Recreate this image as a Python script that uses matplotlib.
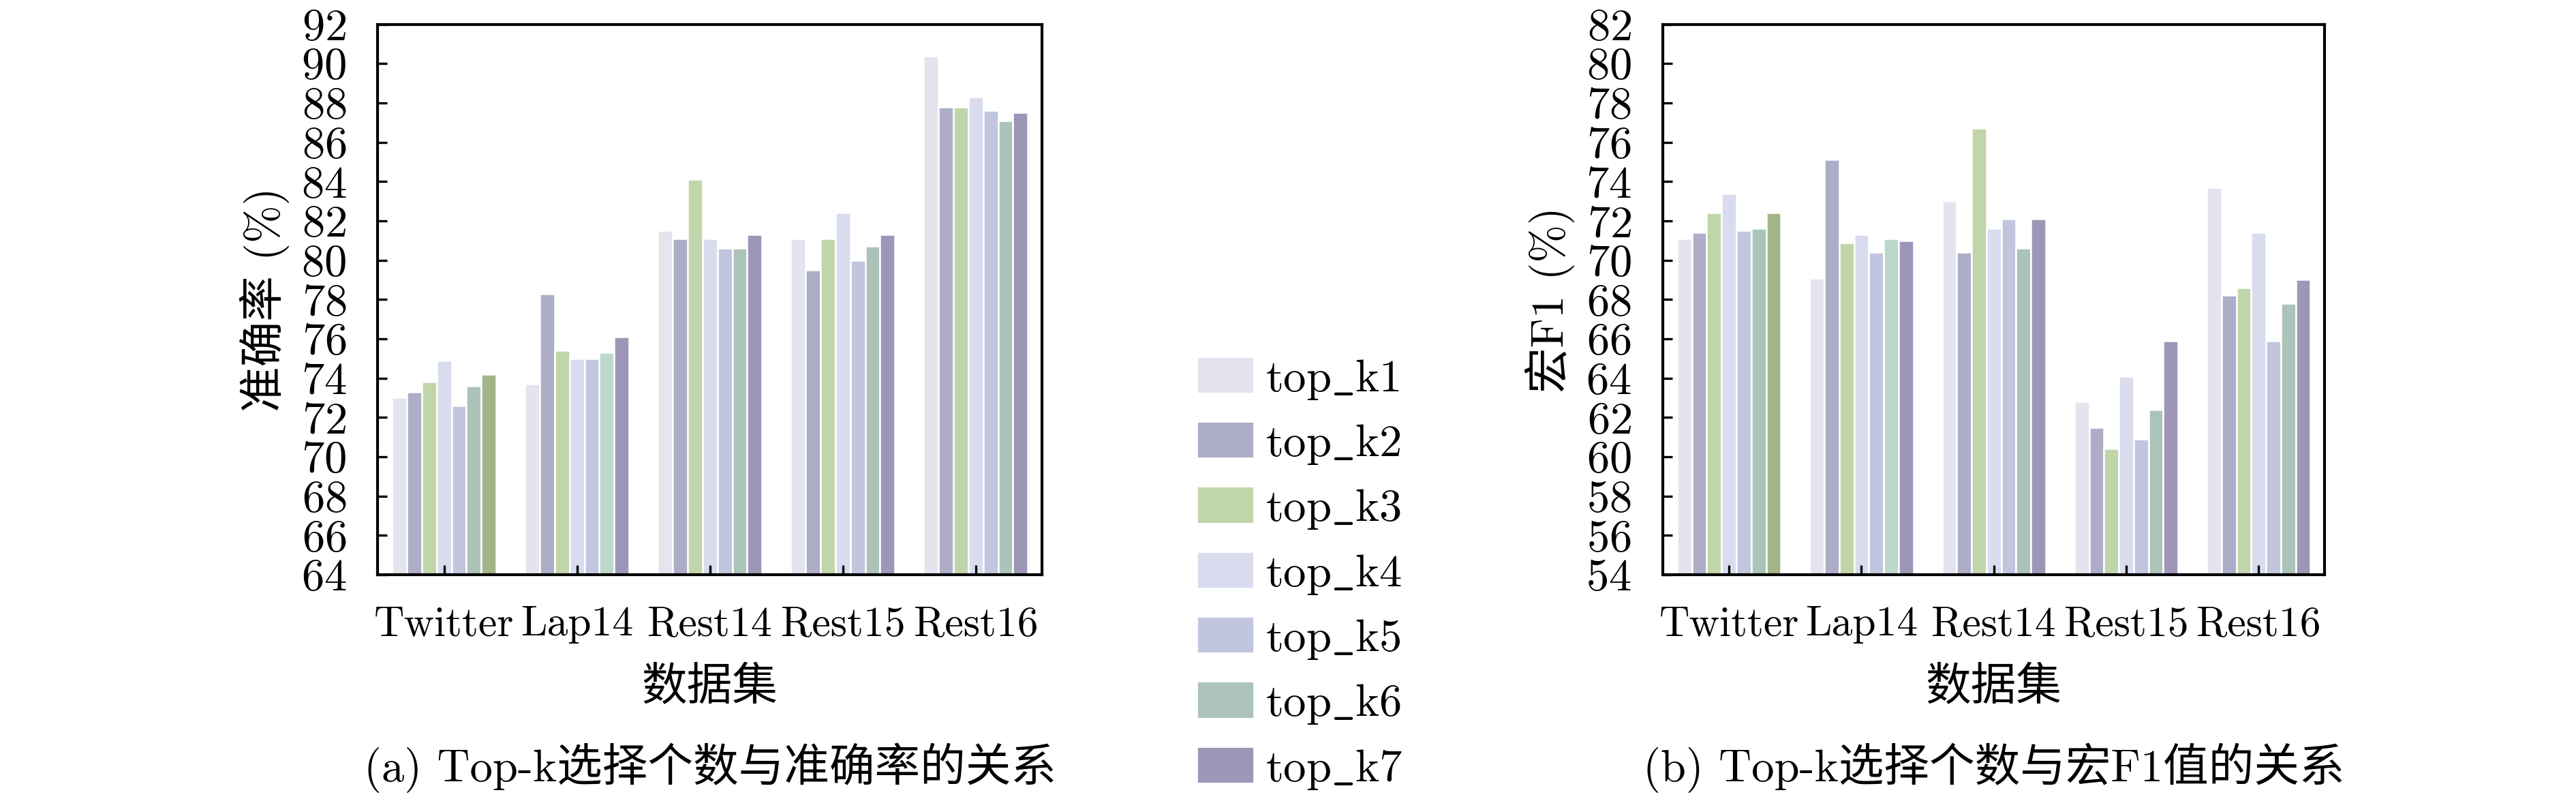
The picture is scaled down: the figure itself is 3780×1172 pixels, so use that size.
import numpy as np
import matplotlib
matplotlib.use('Agg')
from matplotlib import pyplot as plt

plt.rcParams['font.family'] = ['cmr10', 'Noto Sans CJK SC']
plt.rcParams['mathtext.fontset'] = 'cm'
plt.rcParams['axes.unicode_minus'] = False
plt.rcParams['axes.formatter.use_mathtext'] = True

datasets = ['Twitter', 'Lap14', 'Rest14', 'Rest15', 'Rest16']
series = ['top_k1', 'top_k2', 'top_k3', 'top_k4', 'top_k5', 'top_k6', 'top_k7']
colors = ['#e4e4ee', '#adadc7', '#c0d6aa', '#d9dcee', '#c2c5de', '#abc3b8', '#9d96b7']

# accuracy (%), one row per top_k
acc = [
    [73.0, 73.7, 81.5, 81.1, 90.4],
    [73.3, 78.3, 81.1, 79.5, 87.8],
    [73.8, 75.4, 84.1, 81.1, 87.8],
    [74.9, 75.0, 81.1, 82.4, 88.3],
    [72.6, 75.0, 80.6, 80.0, 87.6],
    [73.6, 75.3, 80.6, 80.7, 87.1],
    [74.2, 76.1, 81.3, 81.3, 87.5],
]

# macro F1 (%), one row per top_k
f1 = [
    [71.1, 69.1, 73.0, 62.8, 73.7],
    [71.4, 75.1, 70.4, 61.5, 68.2],
    [72.4, 70.9, 76.7, 60.4, 68.6],
    [73.4, 71.3, 71.6, 64.1, 71.4],
    [71.5, 70.4, 72.1, 60.9, 65.9],
    [71.6, 71.1, 70.6, 62.4, 67.8],
    [72.4, 71.0, 72.1, 65.9, 69.0],
]

# a couple of bars in the original have odd colours: (series, dataset) -> colour
odd_colors = {(6, 0): '#a3b587', (5, 1): '#bcd8ca'}

panels = [
    (acc, '准确率 (%)', (64, 92), '(a) Top-k选择个数与准确率的关系'),
    (f1, '宏F1 (%)', (54, 82), '(b) Top-k选择个数与宏F1值的关系'),
]
rects = [[0.1466, 0.2807, 0.258, 0.689], [0.6455, 0.2807, 0.257, 0.689]]

fig = plt.figure(figsize=(12.6, 3.9067), dpi=300)

x = np.arange(len(datasets))
w = 0.112
for p, (vals, ylab, ylim, cap) in enumerate(panels):
    ax = fig.add_axes(rects[p])
    for i in range(len(series)):
        cols = [odd_colors.get((i, j), colors[i]) for j in range(len(datasets))]
        ax.bar(x + (i - 3) * w, vals[i], w, color=cols, edgecolor='white',
               linewidth=0.6, label=series[i])
    ax.set_xlim(-0.5, 4.5)
    ax.set_ylim(*ylim)
    ax.set_yticks(np.arange(ylim[0], ylim[1] + 1, 2))
    ax.set_xticks(x)
    ax.set_xticklabels(datasets)
    ax.tick_params(direction='in', length=3.4, width=0.8, labelsize=16, pad=11)
    ax.tick_params(axis='x', labelsize=14.8)
    for s in ax.spines.values():
        s.set_linewidth(1.0)
    ax.set_ylabel(ylab, fontsize=16, labelpad=4)
    ax.set_xlabel('数据集', fontsize=16, labelpad=8)
    fig.text(rects[p][0] + rects[p][2] / 2, 0.039, cap, ha='center', va='center',
             fontsize=16)

labels = [r'$\mathrm{top\_k%d}$' % (i + 1) for i in range(len(series))]
leg_handles = [plt.Rectangle((0, 0), 1, 1, color=c) for c in colors]
fig.legend(leg_handles, labels, loc='center left', bbox_to_anchor=(0.4656, 0.281),
           frameon=False, fontsize=16, handlelength=1.15, handleheight=0.72,
           handletextpad=0.3, labelspacing=0.47, borderpad=0, borderaxespad=0)

plt.savefig('out.png')
plt.close()
